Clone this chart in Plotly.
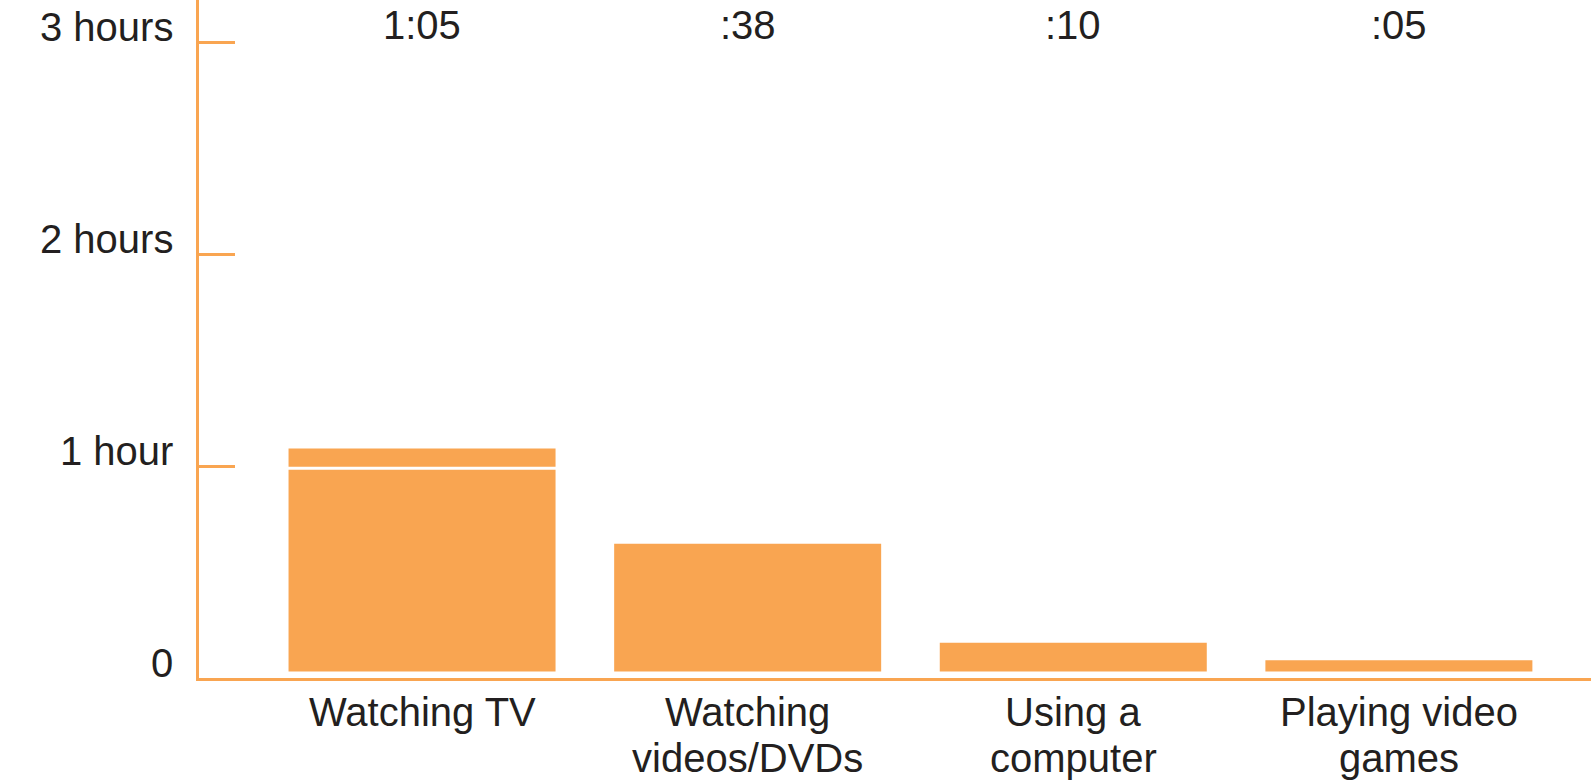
import plotly.graph_objects as go

categories = ["Watching TV", "Watching<br>videos/DVDs", "Using a<br>computer", "Playing video<br>games"]
minutes = [65, 38, 10, 5]
value_labels = ["1:05", ":38", ":10", ":05"]
tick_hours = [0, 1, 2, 3]
tick_text = ["0", "1 hour", "2 hours", "3 hours"]

ORANGE = "#F9A551"
TEXT = "#231F20"
FONT = "Liberation Sans, Arial, sans-serif"

hours = [m / 60 for m in minutes]

fig = go.Figure()
fig.add_trace(go.Bar(
    x=categories, y=hours, width=0.82,
    marker=dict(color=ORANGE, line=dict(width=0)),
    hoverinfo="skip",
))

annotations = []
for c, lab in zip(categories, value_labels):
    annotations.append(dict(x=c, y=1, xref="x", yref="paper", text=lab, showarrow=False,
                            yanchor="middle", xanchor="center", yshift=-25,
                            font=dict(size=40, color=TEXT, family=FONT)))
for v, t in zip(tick_hours, tick_text):
    annotations.append(dict(x=0, y=v, xref="paper", yref="y", text=t, showarrow=False,
                            xanchor="right", yanchor="middle", xshift=-24, yshift=15,
                            font=dict(size=40, color=TEXT, family=FONT)))
# category labels, one annotation per line for tight line spacing
for c in categories:
    for i, line in enumerate(c.split("<br>")):
        annotations.append(dict(x=c, y=0, xref="x", yref="paper", text=line, showarrow=False,
                                xanchor="center", yanchor="middle", yshift=-34 - 46 * i,
                                font=dict(size=40, color=TEXT, family=FONT)))

shapes = [
    # white gap between bars and baseline
    dict(type="rect", xref="x", yref="y", x0=-0.5, x1=3.5, y0=0, y1=0.031,
         fillcolor="white", line=dict(width=0), layer="above"),
    # white rule at 1 hour
    dict(type="line", xref="x", yref="y", x0=-0.5, x1=3.5, y0=0.99, y1=0.99,
         line=dict(color="white", width=3), layer="above"),
]

fig.update_layout(
    width=1591, height=783,
    margin=dict(l=199, r=0, t=0, b=105),
    paper_bgcolor="white", plot_bgcolor="white",
    showlegend=False,
    annotations=annotations,
    shapes=shapes,
    font=dict(family=FONT, size=40, color=TEXT),
)
fig.update_yaxes(
    range=[0, 3.2], tickvals=tick_hours, showticklabels=False,
    ticks="inside", ticklen=36, tickwidth=3, tickcolor=ORANGE,
    showline=True, linecolor=ORANGE, linewidth=3, automargin=False,
    showgrid=False, zeroline=False, fixedrange=True,
)
fig.update_xaxes(
    type="category", range=[-0.685, 3.59],
    showline=True, linecolor=ORANGE, linewidth=3, automargin=False,
    ticks="", showgrid=False, zeroline=False, showticklabels=False,
    fixedrange=True,
)

fig.write_html("out.html", config={"displayModeBar": False},
               post_script="document.body.style.margin='0px';document.body.style.overflow='hidden';")
